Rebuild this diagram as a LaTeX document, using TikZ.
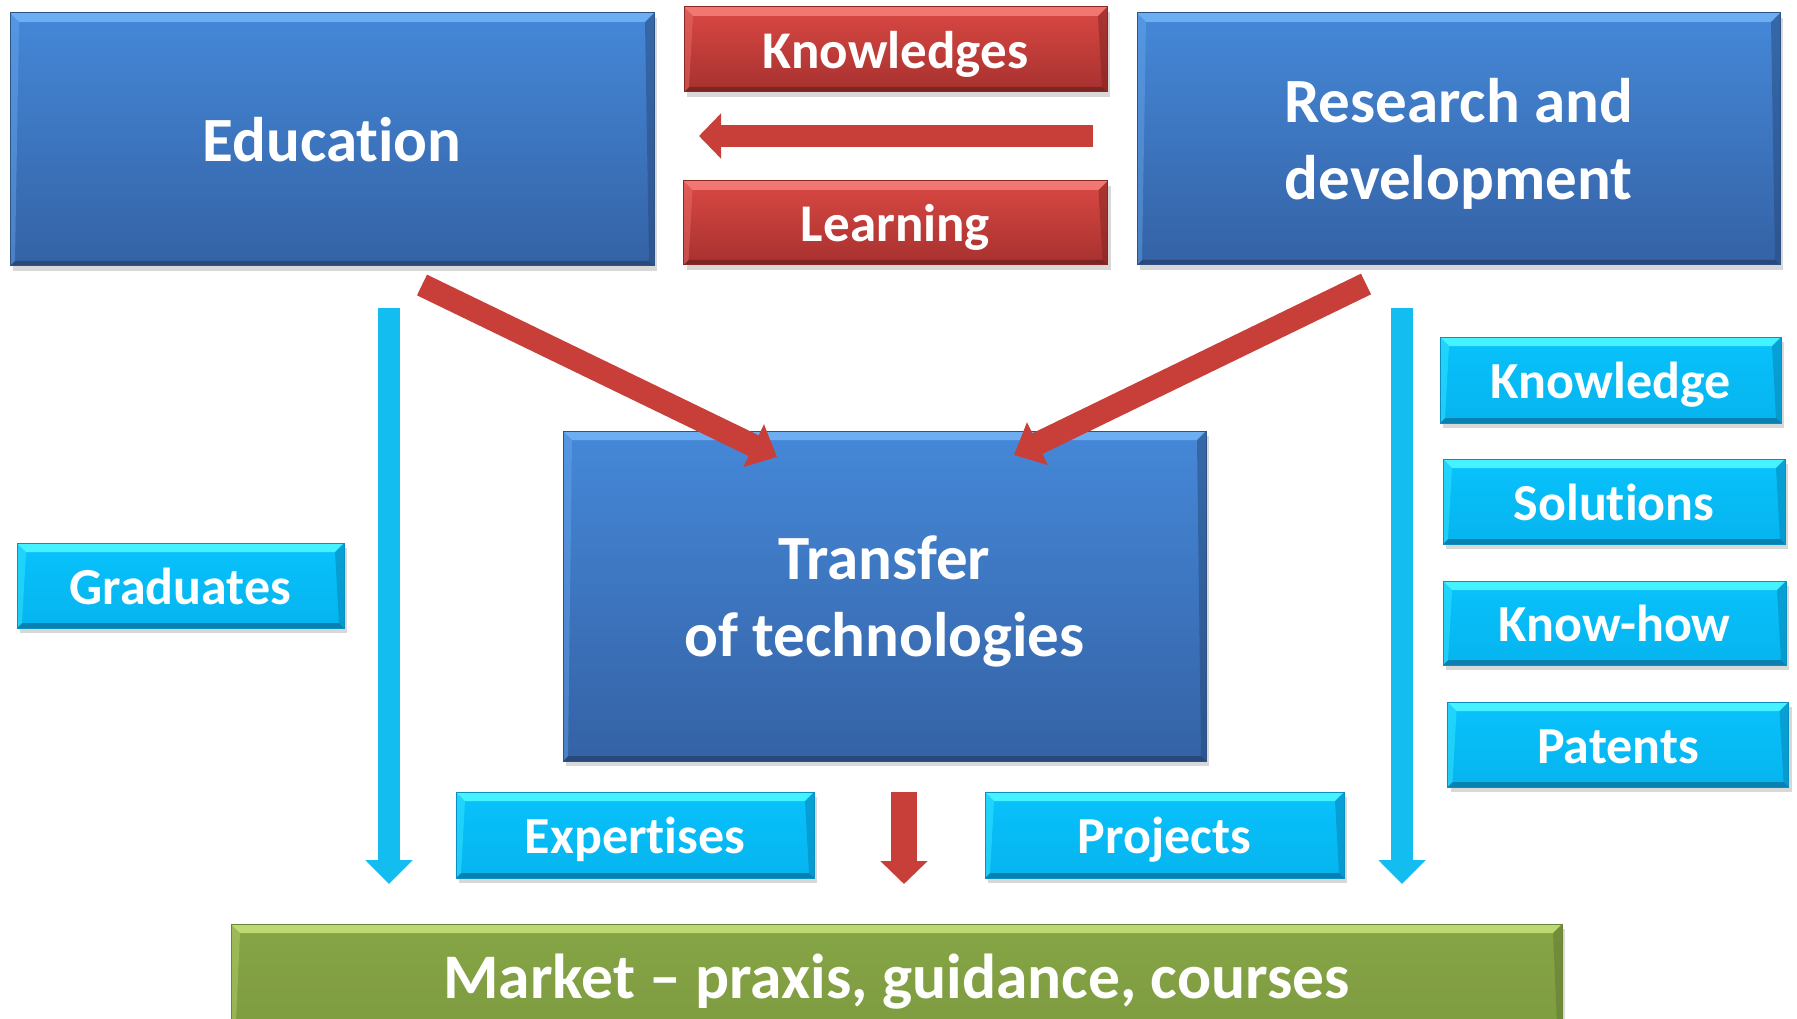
\documentclass[tikz,border=0pt]{standalone}
\usepackage{fontspec}
\setmainfont{Carlito}[RawFeature={-liga}]
\usetikzlibrary{arrows.meta,shadows}
\definecolor{bluetop}{HTML}{4588D8}
\definecolor{bluebot}{HTML}{3462A5}
\definecolor{blueedge}{HTML}{2D5286}
\definecolor{bluelight}{HTML}{6DAEF3}
\definecolor{bluedark}{HTML}{28497A}
\definecolor{redtop}{HTML}{DA4843}
\definecolor{redbot}{HTML}{A6312F}
\definecolor{rededge}{HTML}{8A2826}
\definecolor{redlight}{HTML}{F07772}
\definecolor{reddark}{HTML}{7E2422}
\definecolor{cyantop}{HTML}{08C2FC}
\definecolor{cyanbot}{HTML}{06B4EE}
\definecolor{cyanedge}{HTML}{0A8FC2}
\definecolor{cyanlight}{HTML}{45F2FF}
\definecolor{cyandark}{HTML}{0881B0}
\definecolor{greentop}{HTML}{86A546}
\definecolor{greenbot}{HTML}{7E9C40}
\definecolor{greenedge}{HTML}{6A8535}
\definecolor{greenlight}{HTML}{BCD973}
\definecolor{greendark}{HTML}{5E772F}
\definecolor{redarr}{HTML}{C83F3A}
\definecolor{cyanarr}{HTML}{14BDF0}
\newcommand\bevelbands[2]{%
  \fill[#1] (path picture bounding box.north west) -- (path picture bounding box.north east)
    -- ([xshift=-9pt,yshift=-9pt]path picture bounding box.north east)
    -- ([xshift=9pt,yshift=-9pt]path picture bounding box.north west) -- cycle;
  \fill[#2] (path picture bounding box.south west) -- (path picture bounding box.south east)
    -- ([xshift=-5pt,yshift=5pt]path picture bounding box.south east)
    -- ([xshift=5pt,yshift=5pt]path picture bounding box.south west) -- cycle;
  \fill[#2,opacity=0.5] (path picture bounding box.north east) -- (path picture bounding box.south east)
    -- ([xshift=-5pt,yshift=5pt]path picture bounding box.south east)
    -- ([xshift=-9pt,yshift=-9pt]path picture bounding box.north east) -- cycle;
  \fill[#1,opacity=0.4] (path picture bounding box.north west) -- (path picture bounding box.south west)
    -- ([xshift=5pt,yshift=5pt]path picture bounding box.south west)
    -- ([xshift=9pt,yshift=-9pt]path picture bounding box.north west) -- cycle;
}
\tikzset{
  panel/.style={rectangle, inner sep=0pt, outer sep=0pt, text=white, line width=1pt,
    drop shadow={shadow xshift=3pt, shadow yshift=-5pt, opacity=0.3}},
  bluebox/.style={panel, top color=bluetop, bottom color=bluebot, draw=blueedge,
    path picture={\bevelbands{bluelight}{bluedark}},
    font=\fontsize{63}{77}\selectfont\bfseries, text depth=0pt},
  redbox/.style={panel, top color=redtop, bottom color=redbot, draw=rededge,
    path picture={\bevelbands{redlight}{reddark}},
    font=\fontsize{53}{60}\selectfont\bfseries, text height=38pt, text depth=0pt},
  cyanbox/.style={panel, top color=cyantop, bottom color=cyanbot, draw=cyanedge,
    path picture={\bevelbands{cyanlight}{cyandark}},
    font=\fontsize{52}{60}\selectfont\bfseries, text height=37.5pt, text depth=0pt},
  greenbox/.style={panel, top color=greentop, bottom color=greenbot, draw=greenedge,
    path picture={\bevelbands{greenlight}{greendark}},
    font=\fontsize{63.5}{70}\selectfont\bfseries, text height=44pt, text depth=0pt},
  redarrow/.style={line width=23pt, draw=redarr, -{Triangle[length=26pt,width=46pt]}},
  cyanarrow/.style={line width=22pt, draw=cyanarr, -{Triangle[length=24pt,width=46pt]}},
}
\begin{document}
\begin{tikzpicture}[x=1pt,y=-1pt]
\useasboundingbox (0,0) rectangle (1797,1019);
\fill[white] (0,0) rectangle (1797,1019);
\begin{scope}
\clip (0,0) rectangle (1797,1019);
% top row
\node[bluebox, minimum width=644pt, minimum height=253pt, text height=45pt] (edu) at (332,139.5) {Education};
\node[redbox, minimum width=423pt, minimum height=85pt] (know) at (895.5,49.5) {Knowledges};
\node[redbox, minimum width=424pt, minimum height=84pt] (learn) at (895.5,223) {Learning};
\node[bluebox, minimum width=643pt, minimum height=252pt, text height=121.5pt] (rd) at (1458.5,139)
  {\begin{tabular}[b]{@{}c@{}}Research and\\development\end{tabular}};
% middle
\node[bluebox, minimum width=643pt, minimum height=330pt, text height=121.5pt] (tt) at (884.5,596)
  {\begin{tabular}[b]{@{}c@{}}Transfer\\of technologies\end{tabular}};
\node[cyanbox, minimum width=327pt, minimum height=85pt] (grad) at (180.5,585.5) {Graduates};
\node[cyanbox, minimum width=341pt, minimum height=86pt] (kn) at (1610.5,380) {Knowledge};
\node[cyanbox, minimum width=342pt, minimum height=85pt] (sol) at (1614,501.5) {Solutions};
\node[cyanbox, minimum width=343pt, minimum height=84pt] (kh) at (1614.5,623) {Know-how};
\node[cyanbox, minimum width=341pt, minimum height=85pt] (pat) at (1618,744.5) {Patents};
\node[cyanbox, minimum width=358pt, minimum height=86pt] (exp) at (635,835) {Expertises};
\node[cyanbox, minimum width=359pt, minimum height=86pt] (proj) at (1164.5,835) {Projects};
% bottom
\node[greenbox, minimum width=1331pt, minimum height=104pt] (market) at (896.5,976) {Market – praxis, guidance, courses};
% arrows
\coordinate (hA) at (1093,136);
\coordinate (hB) at (699,136);
\draw[redarrow, line width=22pt, -{Triangle[length=22pt,width=44pt]}] (hA) -- (hB);
\coordinate (d1a) at (422,285);
\coordinate (d1b) at (777,457);
\draw[redarrow] (d1a) -- (d1b);
\coordinate (d2a) at (1366,284);
\coordinate (d2b) at (1014,455);
\draw[redarrow] (d2a) -- (d2b);
\coordinate (dnA) at (904,792);
\coordinate (dnB) at (904,884);
\draw[redarrow, line width=26pt, -{Triangle[length=23pt,width=46pt]}] (dnA) -- (dnB);
\coordinate (clA) at (389,308);
\coordinate (clB) at (389,884);
\draw[cyanarrow] (clA) -- (clB);
\coordinate (crA) at (1402,308);
\coordinate (crB) at (1402,884);
\draw[cyanarrow] (crA) -- (crB);
\end{scope}
\end{tikzpicture}
\end{document}
